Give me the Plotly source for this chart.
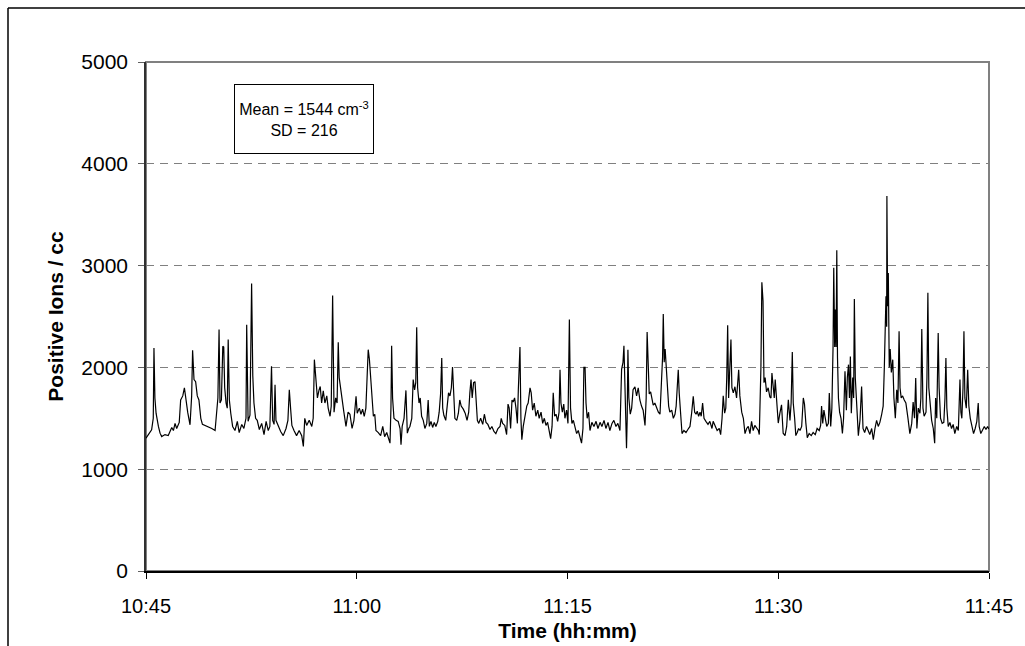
import plotly.graph_objects as go
import pandas as pd

# seconds after 10:45:00
secs = [0, 24, 31, 34, 38, 43, 53, 60, 67, 81, 95, 110, 117, 124, 131, 142, 148, 157, 164, 171,
        178, 188, 195, 199, 205, 212, 219, 226, 234, 241, 252, 266, 281, 295, 302, 307, 312, 316, 322, 328,
        332, 336, 342, 347, 351, 356, 362, 370, 380, 390, 398, 409, 418, 427, 430, 436, 444, 451, 456, 461,
        468, 475, 484, 494, 504, 513, 522, 529, 536, 541, 547, 551, 555, 565, 575, 586, 598, 606, 612, 618,
        623, 632, 643, 654, 665, 672, 678, 686, 697, 708, 714, 719, 725, 732, 739, 744, 750, 757, 764, 772,
        778, 786, 791, 797, 803, 810, 816, 821, 825, 831, 838, 845, 854, 863, 871, 880, 888, 894,
        897, 902, 911, 918, 925, 932, 939, 945, 949, 954, 960, 965, 971, 977, 982, 992, 1002, 1011, 1019, 1028,
        1036, 1042, 1046, 1049, 1053, 1059, 1068, 1077, 1085, 1089, 1094, 1102, 1110, 1116, 1122, 1127, 1135, 1141, 1147, 1152,
        1156, 1160, 1166, 1171, 1177, 1184, 1191, 1199, 1205, 1210, 1217, 1224, 1231, 1238, 1246, 1252, 1258, 1263, 1267, 1272,
        1280, 1287, 1292, 1298, 1304, 1309, 1314, 1319, 1327, 1334, 1340, 1346, 1355, 1363, 1371, 1378, 1383, 1388, 1393, 1399,
        1405, 1409, 1415, 1421, 1429, 1438, 1445, 1452, 1460, 1469, 1477, 1486, 1494, 1503, 1512, 1517, 1523, 1532, 1540, 1546,
        1551, 1557, 1563, 1568, 1574, 1580, 1586, 1590, 1594, 1597, 1601, 1605, 1611, 1618, 1626, 1632, 1640, 1645, 1651, 1658,
        1665, 1673, 1679, 1687, 1694, 1701, 1708, 1715, 1722, 1728, 1734, 1739, 1745, 1751, 1758, 1764, 1768, 1772, 1778, 1784,
        1789, 1796, 1802,
        1808, 1813, 1819, 1825, 1832, 1839, 1846, 1853, 1860, 1866, 1870, 1875, 1879, 1884, 1890, 1896, 1904, 1913, 1922, 1930,
        1939, 1947, 1956, 1964, 1973, 1981, 1990, 1998, 2007, 2015, 2024, 2031, 2037, 2041, 2045, 2050, 2052, 2055, 2058, 2062,
        2068, 2074, 2080, 2088, 2095, 2102, 2109, 2116, 2123, 2131, 2136, 2140, 2145, 2149, 2155, 2161, 2166, 2173, 2181, 2188,
        2195, 2199, 2203, 2206, 2209, 2213, 2217, 2222, 2226, 2232, 2237, 2245, 2252, 2259, 2264, 2269, 2273, 2277, 2283, 2289,
        2297, 2306, 2314, 2323, 2330, 2337, 2343, 2349, 2354, 2360, 2366, 2371, 2377, 2383, 2391, 2400, 2408, 2417, 2422, 2431,
        2439, 2448, 2454, 2460, 2465, 2471, 2476, 2480, 2484, 2488, 2492, 2498, 2502, 2508, 2515, 2522, 2531, 2536, 2544, 2551,
        2558, 2565, 2572, 2579, 2586, 2593, 2600, 2608, 2615, 2619, 2623, 2626, 2630, 2635, 2639, 2644, 2650, 2657, 2664,
        2669, 2673, 2679, 2683, 2687, 2693, 2700, 2707, 2714, 2721, 2729, 2736, 2743, 2750, 2755, 2760, 2764, 2770, 2775, 2781,
        2787, 2793, 2800, 2807, 2812, 2818, 2824, 2832, 2841, 2849, 2858, 2866, 2875, 2881, 2885, 2890, 2895, 2901, 2907, 2914,
        2918, 2924, 2929, 2934, 2937, 2941, 2944, 2947, 2950, 2953, 2957, 2962, 2968, 2974, 2979, 2985, 2991, 2995, 3000, 3004,
        3008, 3012, 3018, 3022, 3025, 3029, 3035, 3042, 3049, 3056, 3062, 3069, 3077, 3084, 3091, 3099, 3106, 3113, 3120, 3127,
        3134, 3141, 3148, 3153, 3155, 3160, 3163, 3164, 3167, 3170, 3174, 3178, 3183, 3189, 3194, 3200, 3206, 3211, 3216, 3220,
        3225, 3231, 3238, 3245, 3254, 3262, 3270, 3276, 3282, 3287, 3292, 3298, 3305, 3309, 3313, 3318, 3323, 3331, 3335, 3339,
        3343, 3349, 3355, 3362, 3368, 3372, 3377, 3383, 3387, 3393, 3400, 3407, 3412, 3416, 3420, 3426, 3433, 3440, 3447, 3454,
        3462, 3469, 3476, 3480, 3484, 3489, 3493, 3497, 3503, 3509, 3514, 3520, 3527, 3534, 3541, 3548, 3554, 3558, 3565, 3573,
        3580, 3587, 3594, 3598, 3600]

ions = [1305, 1387, 1500, 2190, 1700, 1550, 1420, 1354, 1320, 1340, 1330, 1410, 1380, 1450, 1400, 1460, 1680, 1720, 1800, 1650,
        1560, 1436, 1720, 2168, 1880, 1860, 1720, 1680, 1500, 1440, 1430, 1420, 1400, 1380, 1617, 1700, 2371, 1650, 1680, 2207,
        2200, 1800, 1650, 1600, 2273, 1680, 1550, 1420, 1380, 1470, 1360, 1440, 1400, 1500, 2420, 1470, 1530, 2824, 1920, 1650,
        1500, 1480, 1390, 1450, 1340, 1470, 1380, 1420, 2010, 1480, 1440, 1830, 1480, 1420, 1370, 1330, 1400, 1480, 1780, 1580,
        1430, 1380, 1330, 1380, 1330, 1223, 1500, 1430, 1480, 1420, 1500, 2076, 1850, 1700, 1780, 1813, 1650, 1770, 1650, 1720,
        1600, 1520, 1620, 2706, 1560, 1700, 1650, 2246, 1900, 1780, 1650, 1560, 1420, 1560, 1540, 1400, 1480, 1700,
        1715, 1550, 1600, 1540, 1590, 1520, 1600, 1950, 2174, 2080, 1900, 1700, 1520, 1540, 1380, 1360, 1330, 1420, 1320, 1360,
        1300, 1256, 1600, 2213, 1700, 1500, 1480, 1470, 1400, 1240, 1420, 1500, 1774, 1354, 1400, 1420, 1500, 1880, 1780, 1850,
        2394, 1800, 1650, 1700, 1520, 1480, 1400, 1450, 1680, 1420, 1470, 1410, 1460, 1420, 1470, 1560, 1740, 2092, 1600, 1530,
        1480, 1650, 1750, 1720, 1800, 2004, 1700, 1500, 1480, 1550, 1680, 1620, 1590, 1550, 1480, 1560, 1750, 1880, 1700, 1850,
        1860, 1650, 1480, 1450, 1500, 1440, 1540, 1460, 1440, 1390, 1420, 1370, 1350, 1400, 1420, 1500, 1450, 1430, 1340, 1640,
        1600, 1400, 1680, 1660, 1700, 1600, 1450, 1780, 2150, 2200, 1500, 1289, 1420, 1500, 1620, 1650, 1800, 1750, 1580, 1650,
        1520, 1580, 1500, 1560, 1450, 1500, 1430, 1460, 1380, 1300, 1420, 1750, 1520, 1540, 1470, 1560, 1977, 1650, 1560, 1640,
        1500, 1580, 1450,
        2470, 1600, 1450, 1480, 1420, 1350, 1380, 1305, 1256, 1400, 2000, 2000, 1650, 1500, 1560, 1380, 1460, 1420, 1470, 1400,
        1460, 1420, 1480, 1400, 1460, 1380, 1450, 1480, 1420, 1450, 1380, 1980, 2050, 2213, 1900, 1450, 1207, 1500, 2174, 1700,
        1540, 1600, 1780, 1810, 1720, 1800, 1680, 1620, 1580, 1430, 1700, 2348, 1950, 1740, 1760, 1700, 1630, 1650, 1600, 1560,
        1540, 1700, 1945, 2100, 2525, 2050, 2180, 1980, 1800, 1620, 1560, 1580, 1500, 1540, 1620, 1850, 1977, 1750, 1500, 1350,
        1380, 1360, 1390, 1420, 1550, 1715, 1560, 1540, 1570, 1520, 1560, 1520, 1650, 1500, 1470, 1440, 1470, 1400, 1470, 1420,
        1380, 1400, 1340, 1500, 1720, 1550, 1600, 1900, 2414, 1700, 1900, 2273, 1800, 1750, 1810, 1700, 1977, 1720, 1560, 1500,
        1350, 1400, 1420, 1350, 1470, 1380, 1430, 1400, 1380, 1340, 1700, 2000, 2837, 2650, 1850, 1900, 1760, 1800, 1710,
        1700, 1945, 1800, 1700, 1880, 1620, 1453, 1550, 1633, 1354, 1330, 1420, 1682, 1480, 1650, 2151, 1650, 1500, 1330, 1360,
        1400, 1380, 1420, 1700, 1640, 1450, 1310, 1350, 1330, 1360, 1340, 1400, 1380, 1430, 1620, 1450, 1580, 1500, 1420, 1450,
        1748, 1420, 1600, 2200, 2978, 2200, 2568, 2200, 3152, 2100, 1700, 1560, 1500, 1350, 1500, 1961, 1580, 1900, 2027, 1700,
        2108, 1550, 1900, 1700, 2673, 1900, 1600, 1330, 1480, 1813, 1400, 1360, 1420, 1370, 1340, 1400, 1289, 1400, 1480, 1420,
        1460, 1530, 1620, 2000, 2273, 2700, 2400, 3683, 2600, 2928, 2000, 2180, 1950, 2076, 1700, 1500, 1780, 1650, 2355, 1800,
        1700, 1720, 1680, 1650, 1500, 1350, 1450, 1660, 1500, 1895, 1400, 1600, 1550, 1700, 2378, 1600, 1520, 1560, 1900, 2732,
        1800, 1600, 1480, 1400, 1256, 1700, 1500, 2338, 1800, 1500, 1450, 1460, 1700, 2092, 1600, 1420, 1460, 1400, 1440, 1350,
        1420, 1380, 1880, 1560, 1500, 1800, 2355, 1700, 1600, 1977, 1620, 1500, 1420, 1350, 1400, 1470, 1650, 1420, 1350, 1380,
        1420, 1390, 1420, 1400, 1403]

y_ticks = [0, 1000, 2000, 3000, 4000, 5000]
x_ticks = ["10:45", "11:00", "11:15", "11:30", "11:45"]
mean_text = "Mean = 1544 cm<sup>-3</sup><br>SD = 216"

base = pd.Timestamp("2000-01-01 10:45:00")
times = [base + pd.Timedelta(seconds=s) for s in secs]
tickvals = [pd.Timestamp("2000-01-01 " + t + ":00") for t in x_ticks]

fig = go.Figure()
fig.add_trace(go.Scatter(x=times, y=ions, mode="lines",
                         line=dict(color="black", width=1.2), showlegend=False))

FONT = "Liberation Sans, Arial, sans-serif"

fig.update_layout(
    width=1025, height=646,
    margin=dict(l=146, r=36, t=62, b=75, autoexpand=False),
    paper_bgcolor="white", plot_bgcolor="white",
    font=dict(family=FONT, color="black"),
    showlegend=False,
    xaxis=dict(
        type="date", range=[tickvals[0], tickvals[-1]],
        tickvals=tickvals, ticktext=x_ticks, automargin=False,
        showgrid=False, zeroline=False,
        showline=True, linecolor="black", linewidth=1.5,
        ticks="outside", ticklen=6, tickcolor="black", tickwidth=1,
        tickfont=dict(size=20, family=FONT), ticklabelstandoff=10,
        title=dict(text="<b>Time (hh:mm)</b>", font=dict(size=21, family=FONT), standoff=8),
    ),
    yaxis=dict(
        range=[0, 5000], tickvals=y_ticks, automargin=False,
        showgrid=True, gridcolor="#808080", gridwidth=1, griddash="8px,6px",
        zeroline=False,
        showline=True, linecolor="#303030", linewidth=1.5,
        ticks="outside", ticklen=6, tickcolor="#606060", tickwidth=1,
        tickfont=dict(size=21, family=FONT), ticklabelstandoff=6,
        title=dict(text="<b>Positive Ions / cc</b>", font=dict(size=21, family=FONT), standoff=12),
    ),
    shapes=[
        dict(type="rect", xref="paper", yref="paper", x0=0, x1=1, y0=0, y1=1,
             line=dict(color="#808080", width=2), layer="below"),
        dict(type="line", xref="paper", yref="paper", x0=-0.1637, x1=-0.1637, y0=1.1061, y1=-0.2,
             line=dict(color="black", width=1.5)),
        dict(type="line", xref="paper", yref="paper", x0=-0.1637, x1=1.1, y0=1.1061, y1=1.1061,
             line=dict(color="black", width=1.5)),
    ],
    annotations=[
        dict(text=mean_text, xref="paper", yref="paper", x=0.188, y=0.888,
             xanchor="center", yanchor="middle", showarrow=False, align="center",
             font=dict(size=16, family=FONT, color="black"),
             bordercolor="black", borderwidth=1, borderpad=2, bgcolor="white",
             width=134, height=64),
    ],
)

fig.write_html("out.html")
